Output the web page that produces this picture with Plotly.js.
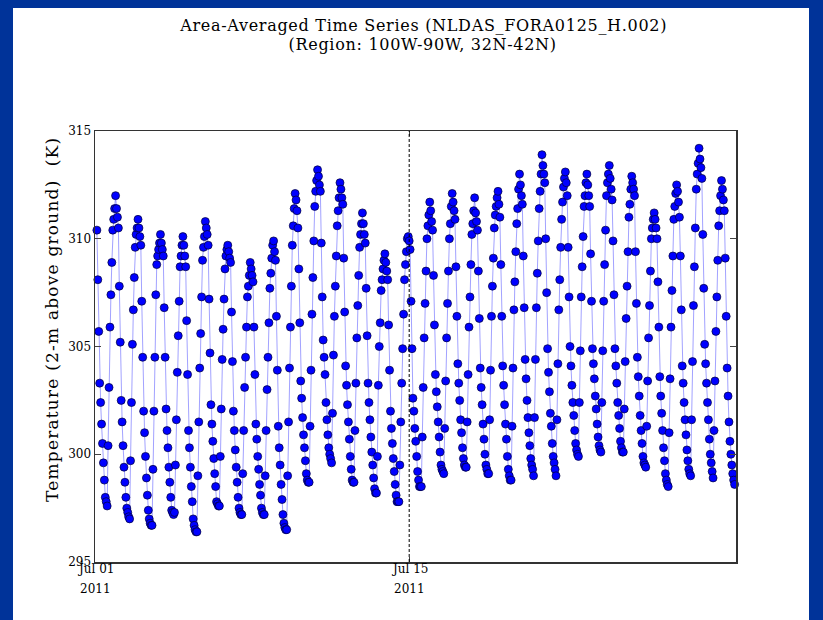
<!DOCTYPE html>
<html>
<head>
<meta charset="utf-8">
<script src="https://cdn.plot.ly/plotly-3.0.1.min.js"></script>
<style>
  html, body { margin: 0; padding: 0; background: #ffffff; }
  #wrap { position: relative; width: 823px; height: 620px; overflow: hidden; }
  #chart { position: absolute; left: 0; top: 0; width: 823px; height: 620px; }
  .band { position: absolute; background: #003399; z-index: 5; }
</style>
</head>
<body>
<div id="wrap">
  <div id="chart"></div>
  <div class="band" style="left:0;top:0;width:13px;height:620px;"></div>
  <div class="band" style="left:0;top:0;width:823px;height:8px;"></div>
  <div class="band" style="left:809px;top:0;width:14px;height:620px;"></div>
</div>
<script>
// ---- data (hourly, 2-m air temperature, K), first value at 2011-07-01 02Z ----
const startUTC = [2011, 6, 1, 2];   // year, month index, day, hour of first sample

const week1 = [
  // Jul 01
  310.4, 308.1, 305.7, 303.3, 302.4, 301.4, 300.5, 299.6, 298.8, 298.0, 297.8, 297.6,
  300.4, 303.1, 305.9, 307.4, 308.9, 310.4, 310.9, 311.4, 312.0, 311.4, 311.0, 310.5,
  // Jul 02
  307.8, 305.2, 302.5, 301.5, 300.4, 299.4, 298.7, 298.0, 297.5, 297.3, 297.1, 297.0,
  299.7, 302.4, 305.1, 306.7, 308.2, 309.6, 310.2, 310.5, 310.9, 310.5, 310.1, 309.7,
  // Jul 03
  307.1, 304.5, 302.0, 301.0, 299.9, 298.9, 298.1, 297.4, 297.0, 296.8, 296.7, 296.7,
  299.3, 302.0, 304.5, 307.4, 308.8, 309.2, 309.5, 309.8, 310.2, 309.8, 309.5, 309.2,
  // Jul 04
  306.8, 304.5, 302.1, 301.1, 300.3, 299.4, 298.7, 298.0, 297.4, 297.3, 297.2, 297.3,
  299.5, 301.6, 303.8, 305.5, 307.1, 308.7, 309.2, 309.7, 310.1, 309.7, 309.2, 308.7,
  // Jul 05
  306.2, 303.7, 301.1, 300.3, 299.4, 298.5, 297.8, 297.0, 296.7, 296.5, 296.4, 296.4,
  299.0, 301.5, 304.0, 305.6, 307.3, 309.0, 309.6, 310.1, 310.8, 310.5, 310.2, 309.7,
  // Jul 06
  307.2, 304.7, 302.3, 301.4, 300.6, 299.8, 299.1, 298.5, 297.8, 297.7, 297.6, 297.6,
  299.9, 302.1, 304.4, 305.8, 307.2, 308.6, 309.2, 309.5, 309.7, 309.4, 309.1, 308.9,
  // Jul 07
  306.6, 304.3, 302.0, 301.1, 300.2, 299.4, 298.7, 298.0, 297.5, 297.3, 297.2, 297.2,
  299.1, 301.1, 303.1, 304.5, 305.9, 307.3, 307.8, 308.3, 308.9, 308.6, 308.3, 308.0
];

const week2 = [
  // Jul 08
  305.9, 303.7, 301.4, 300.7, 299.9, 299.3, 298.6, 298.1, 297.5, 297.3, 297.2, 297.2,
  299.0, 301.1, 303.0, 304.5, 306.1, 307.7, 308.4, 309.1, 309.7, 309.9, 309.4, 309.0,
  // Jul 09
  306.4, 303.9, 301.3, 300.3, 299.5, 298.6, 297.9, 297.2, 296.8, 296.6, 296.5, 296.5,
  299.0, 301.5, 304.0, 305.9, 307.8, 309.7, 310.6, 311.4, 312.1, 311.8, 311.3, 310.5,
  // Jul 10
  308.6, 306.1, 303.4, 302.6, 301.7, 300.9, 300.3, 299.7, 299.1, 298.8, 298.7, 298.7,
  301.3, 303.9, 306.5, 308.2, 309.9, 311.5, 312.2, 312.7, 313.2, 312.9, 312.5, 312.2,
  // Jul 11
  309.8, 307.3, 305.3, 304.5, 303.7, 302.4, 301.6, 300.9, 300.3, 300.0, 299.8, 299.6,
  301.9, 304.6, 306.4, 307.8, 309.2, 310.6, 311.3, 311.9, 312.6, 312.3, 311.9, 311.6,
  // Jul 12
  309.1, 306.6, 304.1, 303.2, 302.3, 301.5, 300.7, 299.9, 299.3, 298.8, 298.7, 298.7,
  301.1, 303.3, 305.4, 306.9, 308.3, 309.6, 310.2, 310.7, 311.2, 310.7, 310.2, 309.8,
  // Jul 13
  307.7, 305.5, 303.3, 302.4, 301.6, 300.8, 300.1, 299.5, 298.9, 298.4, 298.2, 298.2,
  299.9, 303.2, 305.0, 306.1, 307.6, 308.1, 308.6, 309.0, 309.3, 308.9, 308.5, 308.1,
  // Jul 14
  306.0, 303.9, 302.0, 301.2, 300.5, 299.8, 299.2, 298.6, 298.1, 297.8, 297.8, 297.8,
  299.5, 301.5, 303.3, 304.9, 306.5, 308.1, 308.8, 309.4, 310.0, 310.1, 309.9, 309.5
];

const week3 = [
  // Jul 15
  307.1, 304.9, 302.6, 302.0, 301.2, 300.6, 299.9, 299.2, 298.8, 298.5, 298.5, 298.5,
  300.8, 303.1, 305.4, 307.0, 308.5, 310.0, 310.6, 311.1, 311.7, 311.3, 310.8, 310.4,
  // Jul 16
  308.3, 306.0, 303.7, 302.9, 302.2, 301.5, 300.8, 300.1, 299.5, 299.3, 299.2, 299.1,
  301.2, 303.4, 305.4, 307.0, 308.5, 310.0, 310.7, 311.5, 312.1, 311.7, 311.3, 310.9,
  // Jul 17
  308.7, 306.4, 304.2, 303.3, 302.5, 301.6, 301.0, 300.3, 299.8, 299.5, 299.4, 299.4,
  301.5, 303.7, 305.9, 307.3, 308.8, 310.2, 310.7, 311.3, 311.9, 311.2, 310.8, 310.4,
  // Jul 18
  308.5, 306.3, 304.0, 303.1, 302.3, 301.4, 300.7, 300.0, 299.5, 299.3, 299.1, 299.1,
  301.6, 303.9, 306.4, 307.8, 309.1, 310.5, 311.1, 311.5, 311.9, 312.2, 311.6, 311.0,
  // Jul 19
  308.8, 306.4, 304.1, 303.2, 302.3, 301.4, 300.7, 299.9, 299.3, 299.0, 298.8, 298.8,
  301.3, 304.0, 306.7, 308.0, 309.4, 310.7, 311.4, 312.3, 313.0, 312.5, 312.0, 311.6,
  // Jul 20
  309.2, 306.8, 304.4, 303.5, 302.5, 301.7, 301.0, 300.4, 299.8, 299.5, 299.3, 299.0,
  301.7, 304.4, 306.8, 308.4, 309.9, 311.4, 312.2, 313.0, 313.9, 313.4, 313.0, 312.6,
  // Jul 21
  310.0, 307.5, 304.9, 303.8, 302.9, 301.9, 301.3, 300.5, 299.9, 299.6, 299.3, 299.0,
  301.6, 304.2, 306.7, 308.1, 309.6, 310.9, 311.7, 312.4, 312.8, 313.1, 312.6, 312.0
];

const week4 = [
  // Jul 22
  309.6, 307.3, 305.0, 304.1, 303.2, 302.4, 301.8, 301.1, 300.5, 300.2, 300.0, 299.9,
  302.4, 304.8, 307.3, 308.7, 310.1, 311.5, 312.0, 312.6, 313.0, 312.5, 312.0, 311.5,
  // Jul 23
  309.3, 307.1, 304.9, 304.2, 303.5, 302.7, 302.1, 301.4, 300.8, 300.4, 300.2, 300.1,
  302.4, 304.8, 307.1, 308.8, 310.4, 312.0, 312.6, 313.0, 313.4, 312.8, 312.3, 311.8,
  // Jul 24
  309.9, 307.4, 304.9, 304.1, 303.3, 302.4, 301.8, 301.2, 300.6, 300.3, 300.1, 300.1,
  302.1, 304.3, 306.3, 307.8, 309.4, 311.0, 311.6, 312.3, 312.9, 312.6, 312.3, 312.0,
  // Jul 25
  309.4, 307.0, 304.5, 303.6, 302.7, 301.8, 301.1, 300.5, 299.9, 299.6, 299.5, 299.4,
  301.3, 303.4, 305.4, 306.9, 308.5, 310.0, 310.5, 310.9, 311.2, 310.9, 310.5, 310.0,
  // Jul 26
  308.0, 305.9, 303.6, 302.7, 301.9, 301.1, 300.3, 299.7, 299.1, 298.8, 298.6, 298.5,
  301.0, 303.5, 305.9, 307.6, 309.2, 310.9, 311.5, 312.1, 312.5, 312.2, 311.7, 311.0,
  // Jul 27
  309.2, 306.7, 304.1, 303.3, 302.4, 301.6, 300.9, 300.2, 299.7, 299.3, 299.1, 299.0,
  301.6, 304.3, 306.9, 308.7, 310.5, 312.3, 313.0, 313.5, 314.2, 313.7, 313.3, 312.8,
  // Jul 28
  310.2, 307.7, 305.1, 304.2, 303.3, 302.4, 301.6, 300.7, 300.0, 299.6, 299.2, 298.9,
  301.1, 303.4, 305.7, 307.3, 309.0, 310.6, 311.3, 312.0, 312.7, 312.3, 311.8, 311.3,
  // Jul 29 (partial)
  309.1, 306.4, 304.0, 302.7, 301.5, 300.6, 300.0, 299.5, 299.1, 298.8, 298.6
];

const tickVals  = ['2011-07-01 00:00', '2011-07-15 00:00'];
const tickText  = ['Jul 01', 'Jul 15'];
const yearText  = ['2011', '2011'];
const yTicks    = [295, 300, 305, 310, 315];
const markerDate = '2011-07-15 00:00';
const titleLine1 = 'Area-Averaged Time Series (NLDAS_FORA0125_H.002)';
const titleLine2 = '(Region: 100W-90W, 32N-42N)';
const yLabel = 'Temperature (2-m above ground)  (K)';

// ---- build series ----
const temps = week1.concat(week2, week3, week4);
const t0 = Date.UTC(startUTC[0], startUTC[1], startUTC[2], startUTC[3]);
const times = temps.map((_, i) => new Date(t0 + i * 3600e3).toISOString().slice(0, 16).replace('T', ' '));

const serif = 'DejaVu Serif, serif';

const trace = {
  x: times, y: temps, type: 'scatter', mode: 'lines+markers',
  line: { color: 'rgba(70,70,255,0.5)', width: 1 },
  marker: { color: '#0000ff', size: 8, line: { color: '#000033', width: 0.7 } },
  cliponaxis: false, hoverinfo: 'skip'
};

const annotations = [
  { text: titleLine1, xref: 'paper', yref: 'paper', x: 0.5117, y: 1.2443, xanchor: 'center', yanchor: 'middle',
    showarrow: false, font: { family: serif, size: 16, color: '#000' } },
  { text: titleLine2, xref: 'paper', yref: 'paper', x: 0.5117, y: 1.2014, xanchor: 'center', yanchor: 'middle',
    showarrow: false, font: { family: serif, size: 16, color: '#000' } },
  { text: yLabel, xref: 'paper', yref: 'paper', x: -0.0671, y: 0.5638, xanchor: 'center', yanchor: 'middle',
    textangle: -90, showarrow: false, font: { family: serif, size: 17, color: '#000' } }
];
// x tick labels: month/day line and year line
tickVals.forEach((v, i) => {
  annotations.push({
    text: tickText[i], xref: 'x', yref: 'paper', x: v, y: -0.0174, xanchor: 'center', yanchor: 'middle',
    showarrow: false, font: { family: serif, size: 12, color: '#000' }
  });
  annotations.push({
    text: yearText[i], xref: 'x', yref: 'paper', x: v, y: -0.0638, xanchor: 'center', yanchor: 'middle',
    showarrow: false, font: { family: serif, size: 12, color: '#000' }
  });
});

const layout = {
  width: 823, height: 620,
  margin: { l: 95, r: 87, t: 131, b: 58, pad: 0 },
  paper_bgcolor: '#ffffff', plot_bgcolor: '#ffffff',
  showlegend: false,
  font: { family: serif, size: 12, color: '#000' },
  xaxis: {
    type: 'date', range: ['2011-07-01 00:00', '2011-07-29 13:30'],
    tickmode: 'array', tickvals: tickVals, ticktext: tickText, showticklabels: false,
    ticks: 'inside', ticklen: 5, tickcolor: '#444', tickwidth: 1,
    showline: true, linecolor: '#333', linewidth: 1.5, mirror: 'ticks',
    showgrid: false, zeroline: false
  },
  yaxis: {
    range: [295, 315], tickmode: 'array', tickvals: yTicks, ticktext: yTicks.map(String),
    ticks: 'inside', ticklen: 6, tickcolor: '#444', tickwidth: 1,
    showline: true, linecolor: '#333', linewidth: 1.5, mirror: 'ticks',
    showgrid: false, zeroline: false,
    tickfont: { family: serif, size: 12, color: '#000' }
  },
  shapes: [{
    type: 'line', xref: 'x', yref: 'paper', x0: markerDate, x1: markerDate, y0: 0, y1: 1,
    line: { color: '#000', width: 1, dash: '3px,2px' }, layer: 'above'
  }],
  annotations: annotations
};

Plotly.newPlot('chart', [trace], layout, { staticPlot: true, displayModeBar: false }).then(() => {
  const sp = { 0: '0.7px', 1: '0.7px', 2: '1.2px' };
  Object.keys(sp).forEach(k => {
    const g = document.querySelector('g.annotation[data-index="' + k + '"] text');
    if (g) g.style.letterSpacing = sp[k];
  });
});
</script>
</body>
</html>
